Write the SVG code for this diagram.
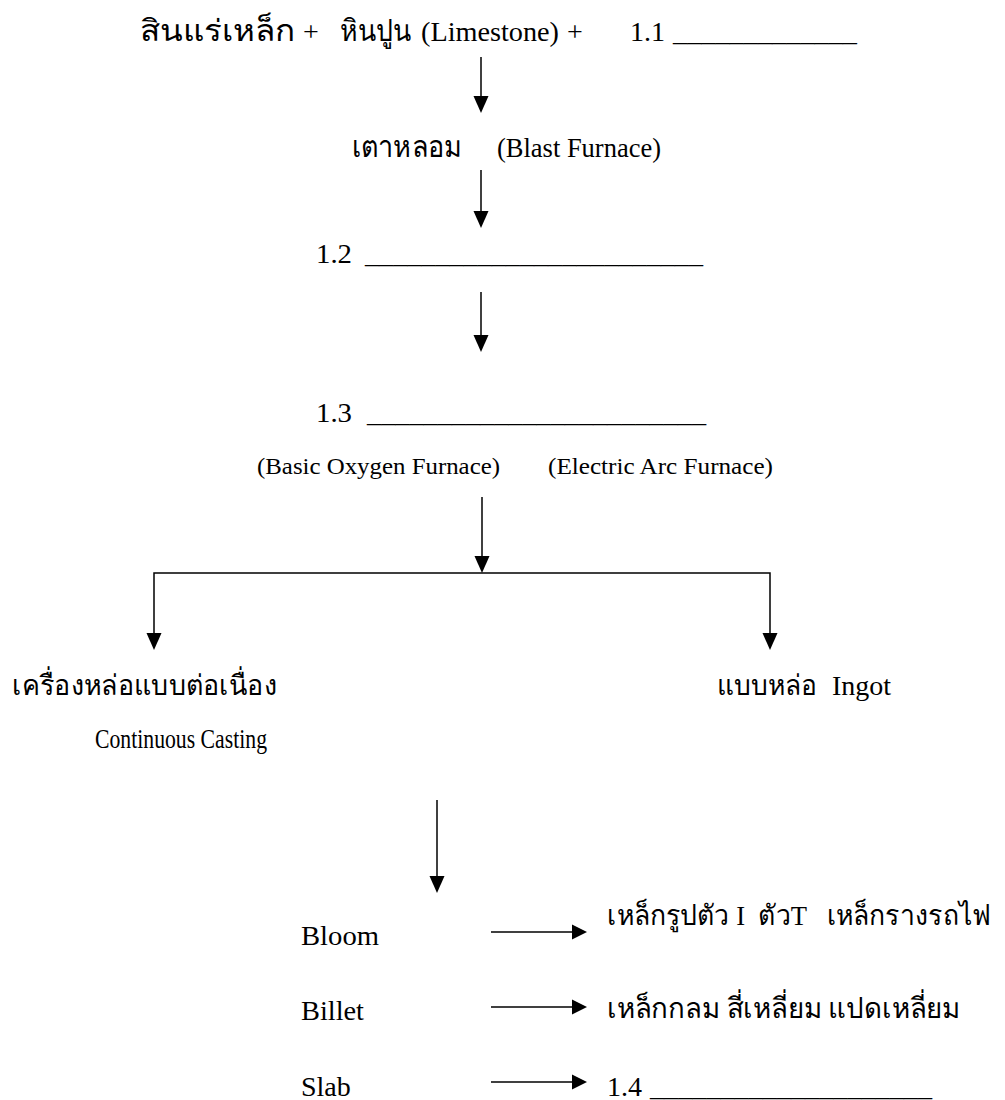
<svg xmlns="http://www.w3.org/2000/svg" width="1005" height="1100" viewBox="0 0 1005 1100">
<defs>
<style>
text{font-family:"Liberation Serif","DejaVu Serif",serif;fill:#000}
.l{font-size:28px}
.s{font-size:24px}
.t{font-size:28px}
.tt{font-size:30px}
.c{stroke:#000;stroke-width:1.5;fill:none}
</style>
</defs>
<rect width="1005" height="1100" fill="#fff"/>
<g id="connectors">
<line class="c" x1="481" y1="57" x2="481" y2="96"/>
<path d="M473.5,96 L488.5,96 L481,113 z"/>
<line class="c" x1="481" y1="170" x2="481" y2="211"/>
<path d="M473.5,211 L488.5,211 L481,228 z"/>
<line class="c" x1="481" y1="292" x2="481" y2="335"/>
<path d="M473.5,335 L488.5,335 L481,352 z"/>
<line class="c" x1="482" y1="497" x2="482" y2="556"/>
<path d="M474.5,556 L489.5,556 L482,573 z"/>
<polyline class="c" points="154,633 154,573 770,573 770,633"/>
<path d="M146.5,633 L161.5,633 L154,650 z"/>
<path d="M762.5,633 L777.5,633 L770,650 z"/>
<line class="c" x1="437" y1="800" x2="437" y2="876"/>
<path d="M429.5,876 L444.5,876 L437,893 z"/>
<line class="c" x1="491" y1="932" x2="572" y2="932"/>
<path d="M572,924.5 L572,939.5 L587,932 z"/>
<line class="c" x1="491" y1="1007" x2="572" y2="1007"/>
<path d="M572,999.5 L572,1014.5 L587,1007 z"/>
<line class="c" x1="491" y1="1082" x2="572" y2="1082"/>
<path d="M572,1074.5 L572,1089.5 L587,1082 z"/>
</g>
<g id="n1">
<text class="tt" x="140" y="41" textLength="155" lengthAdjust="spacingAndGlyphs">สินแร่เหล็ก</text>
<text class="l" x="303" y="41">+</text>
<text class="tt" x="340" y="41" textLength="72" lengthAdjust="spacingAndGlyphs">หินปูน</text>
<text class="l" x="421" y="41" textLength="138" lengthAdjust="spacingAndGlyphs">(Limestone)</text>
<text class="l" x="567" y="41">+</text>
<text class="l" x="630" y="41" textLength="35" lengthAdjust="spacingAndGlyphs">1.1</text>
<text class="l" x="673" y="41" textLength="184" lengthAdjust="spacingAndGlyphs">_____________</text>
</g>
<g id="n2">
<text class="tt" x="352" y="157" textLength="110" lengthAdjust="spacingAndGlyphs">เตาหลอม</text>
<text class="l" x="497" y="157" textLength="164" lengthAdjust="spacingAndGlyphs">(Blast Furnace)</text>
</g>
<g id="n3">
<text class="l" x="316" y="263" textLength="36" lengthAdjust="spacingAndGlyphs">1.2</text>
<text class="l" x="365" y="263" textLength="338" lengthAdjust="spacingAndGlyphs">________________________</text>
</g>
<g id="n4">
<text class="l" x="316" y="422" textLength="36" lengthAdjust="spacingAndGlyphs">1.3</text>
<text class="l" x="367" y="422" textLength="339" lengthAdjust="spacingAndGlyphs">________________________</text>
<text class="s" x="257" y="474" textLength="243" lengthAdjust="spacingAndGlyphs">(Basic Oxygen Furnace)</text>
<text class="s" x="548" y="474" textLength="225" lengthAdjust="spacingAndGlyphs">(Electric Arc Furnace)</text>
</g>
<g id="n5">
<text class="t" x="12" y="695" textLength="265" lengthAdjust="spacingAndGlyphs">เครื่องหล่อแบบต่อเนื่อง</text>
<text class="l" x="95" y="748" textLength="172" lengthAdjust="spacingAndGlyphs">Continuous Casting</text>
</g>
<g id="n6">
<text class="t" x="717" y="695" textLength="100" lengthAdjust="spacingAndGlyphs">แบบหล่อ</text>
<text class="l" x="832" y="695">Ingot</text>
</g>
<g id="n7">
<text class="l" x="301" y="945" textLength="78" lengthAdjust="spacingAndGlyphs">Bloom</text>
<text class="t" x="607" y="925" font-size="25" textLength="384" lengthAdjust="spacingAndGlyphs" xml:space="preserve">เหล็กรูปตัว I  ตัวT   เหล็กรางรถไฟ</text>
</g>
<g id="n8">
<text class="l" x="301" y="1020" textLength="63" lengthAdjust="spacingAndGlyphs">Billet</text>
<text class="t" x="607" y="1018" textLength="353" lengthAdjust="spacingAndGlyphs">เหล็กกลม สี่เหลี่ยม แปดเหลี่ยม</text>
</g>
<g id="n9">
<text class="l" x="301" y="1096">Slab</text>
<text class="l" x="607" y="1096">1.4</text>
<text class="l" x="650" y="1096" textLength="282" lengthAdjust="spacingAndGlyphs">____________________</text>
</g>
</svg>
